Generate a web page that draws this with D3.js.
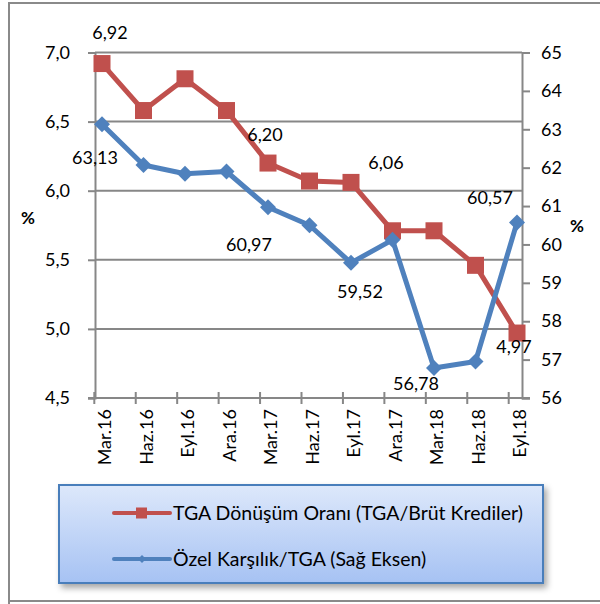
<!DOCTYPE html>
<html>
<head>
<meta charset="utf-8">
<script src="https://cdn.jsdelivr.net/npm/d3@7"></script>
<style>
  html, body { margin: 0; padding: 0; background: #fff; }
  svg { display: block; font-family: Lato, "Open Sans", sans-serif; }
</style>
</head>
<body>
<svg id="chart" width="600" height="604"></svg>
<script>
// Quarterly periods
const categories = ["Mar.16", "Haz.16", "Eyl.16", "Ara.16", "Mar.17", "Haz.17",
                    "Eyl.17", "Ara.17", "Mar.18", "Haz.18", "Eyl.18"];

// NPL conversion ratio (left axis, %)
const tgaRatio = [6.92, 6.58, 6.81, 6.58, 6.20, 6.07, 6.06, 5.71, 5.71, 5.46, 4.97];

// Specific provisions / NPL (right axis, %)
const provisionRatio = [63.13, 62.07, 61.84, 61.90, 60.97, 60.50, 59.52, 60.12, 56.78, 56.95, 60.57];

// Tick values for both value axes
const leftTicks = [4.5, 5.0, 5.5, 6.0, 6.5, 7.0];
const rightTicks = [56, 57, 58, 59, 60, 61, 62, 63, 64, 65];

// Series names
const seriesNames = ["TGA Dönüşüm Oranı (TGA/Brüt Krediler)", "Özel Karşılık/TGA (Sağ Eksen)"];

// Which points carry a value label (index into the series)
const tgaLabelIdx = [0, 4, 6, 10];
const provLabelIdx = [0, 4, 6, 8, 10];

const RED = "#c0504d", BLUE = "#4f81bd", AXIS = "#878787";
const fmt1 = d => d3.format(".1f")(d).replace(".", ",");
const fmt2 = d => d3.format(".2f")(d).replace(".", ",");

const svg = d3.select("#chart");

// Outer frame
svg.append("path")
  .attr("d", "M9,604 V3 H600 M9,601 H600")
  .attr("fill", "none").attr("stroke", "#8a8a8a").attr("stroke-width", 2);

const plot = { left: 95, right: 522, top: 52.5, bottom: 398 };

const yL = d3.scaleLinear().domain([4.5, 7.0]).range([plot.bottom, plot.top]);
const yR = d3.scaleLinear().domain([56, 65]).range([plot.bottom, plot.top]);
const x = d3.scalePoint().domain(categories).range([102, 517]);
// category tick marks sit just before each point
const xTick = d3.scalePoint().domain(categories).range([94.3, 508.7]);

// Horizontal gridlines
svg.append("g").selectAll("line")
  .data(leftTicks.slice(1))
  .join("line")
  .attr("x1", plot.left).attr("x2", plot.right)
  .attr("y1", d => yL(d)).attr("y2", d => yL(d))
  .attr("stroke", AXIS).attr("stroke-width", 2);

// Left axis
const gL = svg.append("g").attr("transform", `translate(${plot.left},0)`)
  .call(d3.axisLeft(yL).tickValues(leftTicks).tickFormat(fmt1).tickSize(7).tickPadding(18));
gL.select(".domain").attr("stroke", AXIS).attr("stroke-width", 2);
gL.selectAll(".tick line").attr("stroke", AXIS).attr("stroke-width", 2);
gL.selectAll(".tick text").attr("font-size", 18).attr("fill", "#000").attr("font-family", "Lato");

// Right axis
const gR = svg.append("g").attr("transform", `translate(${plot.right},0)`)
  .call(d3.axisRight(yR).tickValues(rightTicks).tickFormat(d3.format("d")).tickSize(8).tickPadding(11));
gR.select(".domain").attr("stroke", AXIS).attr("stroke-width", 2);
gR.selectAll(".tick line").attr("stroke", AXIS).attr("stroke-width", 2);
gR.selectAll(".tick text").attr("font-size", 18).attr("fill", "#000").attr("font-family", "Lato");

// Category axis line and crossing ticks
const gX = svg.append("g");
gX.append("line")
  .attr("x1", plot.left - 7).attr("x2", plot.right + 8)
  .attr("y1", plot.bottom).attr("y2", plot.bottom)
  .attr("stroke", AXIS).attr("stroke-width", 2);
gX.selectAll("line.tk")
  .data(categories)
  .join("line").attr("class", "tk")
  .attr("x1", d => xTick(d)).attr("x2", d => xTick(d))
  .attr("y1", plot.bottom - 6).attr("y2", plot.bottom + 6)
  .attr("stroke", AXIS).attr("stroke-width", 2);
gX.selectAll("text")
  .data(categories)
  .join("text")
  .attr("transform", d => `translate(${x(d) + 3},${plot.bottom + 11}) rotate(-90)`)
  .attr("text-anchor", "end")
  .attr("dy", "0.35em")
  .attr("font-size", 18)
  .text(d => d);

// Axis titles
svg.append("text").attr("x", 28).attr("y", 218).attr("text-anchor", "middle")
  .attr("dy", "0.35em").attr("font-size", 17).attr("font-weight", "bold").text("%");
svg.append("text").attr("x", 577).attr("y", 226).attr("text-anchor", "middle")
  .attr("dy", "0.35em").attr("font-size", 17).attr("font-weight", "bold").text("%");

// Lines
const lineL = d3.line().x((d, i) => x(categories[i])).y(d => yL(d));
const lineR = d3.line().x((d, i) => x(categories[i])).y(d => yR(d));

svg.append("path").datum(tgaRatio).attr("d", lineL)
  .attr("fill", "none").attr("stroke", RED).attr("stroke-width", 5).attr("stroke-linejoin", "round");
svg.append("g").selectAll("rect")
  .data(tgaRatio).join("rect")
  .attr("x", (d, i) => x(categories[i]) - 8.5).attr("y", d => yL(d) - 8.5)
  .attr("width", 17).attr("height", 17).attr("fill", RED);

svg.append("path").datum(provisionRatio).attr("d", lineR)
  .attr("fill", "none").attr("stroke", BLUE).attr("stroke-width", 5).attr("stroke-linejoin", "round");
const diamond = d3.symbol().type(d3.symbolSquare).size(128);
svg.append("g").selectAll("path")
  .data(provisionRatio).join("path")
  .attr("d", diamond)
  .attr("transform", (d, i) => `translate(${x(categories[i])},${yR(d)}) rotate(45)`)
  .attr("fill", BLUE);

// Value labels (offsets from their points)
const tgaLabelOffset = { 0: [8, -31], 4: [-3, -28], 6: [35, -20], 10: [-3, 14] };
const provLabelOffset = { 0: [-7, 33], 4: [-19, 37], 6: [9, 29], 8: [-18, 16], 10: [-27, -25] };

svg.append("g").selectAll("text")
  .data(tgaLabelIdx).join("text")
  .attr("x", i => x(categories[i]) + tgaLabelOffset[i][0])
  .attr("y", i => yL(tgaRatio[i]) + tgaLabelOffset[i][1])
  .attr("text-anchor", "middle").attr("dy", "0.35em").attr("font-size", 18)
  .text(i => fmt2(tgaRatio[i]));

svg.append("g").selectAll("text")
  .data(provLabelIdx).join("text")
  .attr("x", i => x(categories[i]) + provLabelOffset[i][0])
  .attr("y", i => yR(provisionRatio[i]) + provLabelOffset[i][1])
  .attr("text-anchor", "middle").attr("dy", "0.35em").attr("font-size", 18)
  .text(i => fmt2(provisionRatio[i]));

// Legend
const defs = svg.append("defs");
const grad = defs.append("linearGradient").attr("id", "legendFill")
  .attr("x1", 0).attr("y1", 0).attr("x2", 0).attr("y2", 1);
grad.append("stop").attr("offset", "0%").attr("stop-color", "#dde8fb");
grad.append("stop").attr("offset", "100%").attr("stop-color", "#a6c2f3");
const shadow = defs.append("filter").attr("id", "legendShadow")
  .attr("x", "-5%").attr("y", "-10%").attr("width", "115%").attr("height", "130%");
shadow.append("feDropShadow").attr("dx", 3).attr("dy", 4).attr("stdDeviation", 3)
  .attr("flood-color", "#000").attr("flood-opacity", 0.35);

const legend = svg.append("g");
legend.append("rect")
  .attr("x", 59).attr("y", 485).attr("width", 484).attr("height", 98)
  .attr("fill", "url(#legendFill)").attr("stroke", "#4a7ebb").attr("stroke-width", 2)
  .attr("filter", "url(#legendShadow)");

const legendRows = [
  { name: seriesNames[0], color: RED, y: 513, marker: "square" },
  { name: seriesNames[1], color: BLUE, y: 559, marker: "diamond" }
];
legendRows.forEach(r => {
  legend.append("line").attr("x1", 114).attr("x2", 170).attr("y1", r.y).attr("y2", r.y)
    .attr("stroke", r.color).attr("stroke-width", 4).attr("stroke-linecap", "round");
  if (r.marker === "square") {
    legend.append("rect").attr("x", 136).attr("y", r.y - 5.5).attr("width", 11).attr("height", 11)
      .attr("fill", r.color);
  } else {
    legend.append("path").attr("d", d3.symbol().type(d3.symbolSquare).size(32))
      .attr("transform", `translate(142,${r.y}) rotate(45)`).attr("fill", r.color);
  }
  legend.append("text").attr("x", 173).attr("y", r.y).attr("dy", "0.35em")
    .attr("font-size", 19.5).text(r.name);
});
</script>
</body>
</html>
